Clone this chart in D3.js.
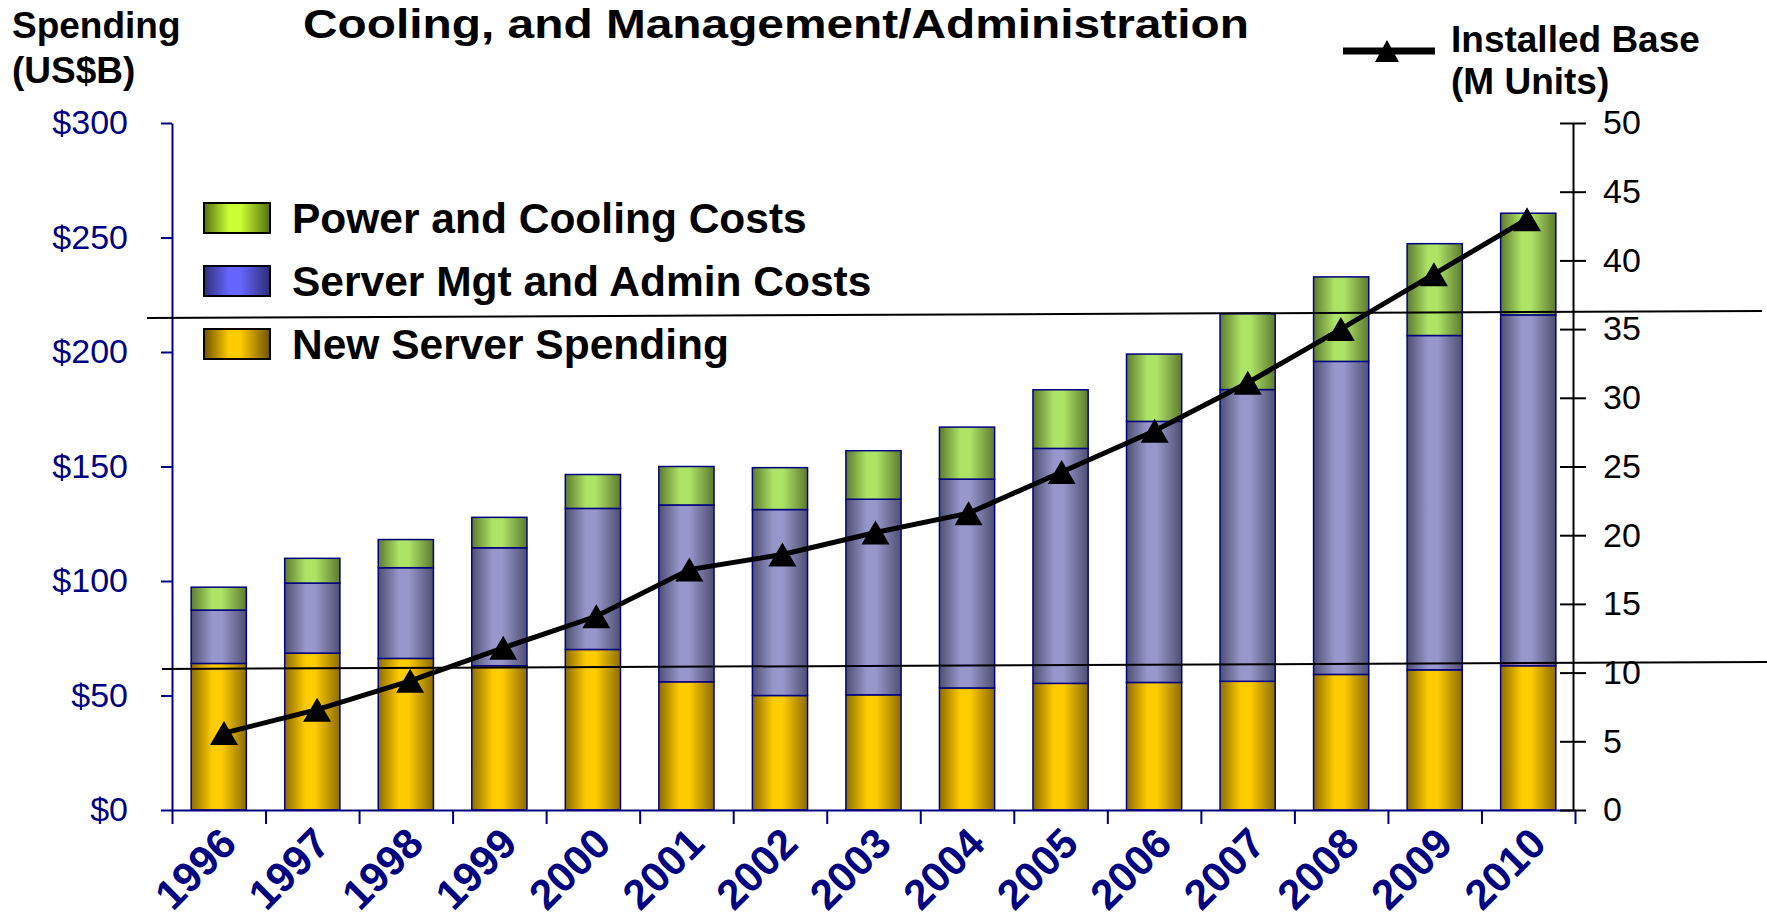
<!DOCTYPE html>
<html>
<head>
<meta charset="utf-8">
<script src="https://cdn.jsdelivr.net/npm/d3@7"></script>
<style>
  body { margin: 0; background: #fff; }
  text { font-family: "Liberation Sans", Arial, sans-serif; }
</style>
</head>
<body>
<div id="chart"></div>
<script>
// chart data
var years = ["1996", "1997", "1998", "1999", "2000", "2001", "2002", "2003",
             "2004", "2005", "2006", "2007", "2008", "2009", "2010"];
var newServer    = [64, 68.5, 66.2, 63, 70.1, 56, 50, 50.3, 53.3, 55.3, 55.7, 56.2, 59.2, 61.2, 63];
var mgmtAdmin    = [23.3, 30.6, 39.6, 51.5, 61.6, 77.2, 81.2, 85.4, 91.2, 102.6, 114, 127.4, 136.7, 146, 153.2];
var powerCooling = [10, 10.8, 12.3, 13.3, 14.8, 16.8, 18.3, 21.2, 22.7, 25.6, 29.4, 33.1, 36.9, 40.1, 44.4];
var installedBase = [5.6, 7.3, 9.4, 11.8, 14.1, 17.5, 18.6, 20.2, 21.6, 24.6, 27.6, 31.1, 35.0, 39.0, 43.0];

var leftTicks  = [0, 50, 100, 150, 200, 250, 300];
var rightTicks = [0, 5, 10, 15, 20, 25, 30, 35, 40, 45, 50];

var seriesKeys   = ["newServer", "mgmtAdmin", "powerCooling"];
var legendLabels = ["Power and Cooling Costs", "Server Mgt and Admin Costs", "New Server Spending"];

// svg size and plot box
var svgWidth = 1767;
var svgHeight = 923;
var plot = { left: 172, right: 1575, top: 123, bottom: 810 };
var navy = "#000080";

var svg = d3.select("#chart")
  .append("svg")
  .attr("width", svgWidth)
  .attr("height", svgHeight);

// gradients: dark edges, light middle
var defs = svg.append("defs");
function addGradient(id, edge, mid) {
  var g = defs.append("linearGradient")
    .attr("id", id)
    .attr("x1", 0).attr("x2", 1).attr("y1", 0).attr("y2", 0);
  g.append("stop").attr("offset", 0).attr("stop-color", edge);
  g.append("stop").attr("offset", 0.38).attr("stop-color", mid);
  g.append("stop").attr("offset", 0.55).attr("stop-color", mid);
  g.append("stop").attr("offset", 1).attr("stop-color", edge);
}
addGradient("g-newServer", "#8c6c00", "#ffcc00");
addGradient("g-mgmtAdmin", "#4f4f72", "#9797cc");
addGradient("g-powerCooling", "#5e7a2e", "#ade466");
addGradient("s-newServer", "#6e5200", "#ffcc00");
addGradient("s-mgmtAdmin", "#2e2e78", "#6666ff");
addGradient("s-powerCooling", "#557010", "#ccff33");

// scales
var x = d3.scaleBand()
  .domain(years)
  .range([plot.left, plot.right])
  .paddingInner(0.41)
  .paddingOuter(0.205);

var xLine = d3.scalePoint()
  .domain(years)
  .range([224, 1527]);

var yLeft = d3.scaleLinear()
  .domain([0, 300])
  .range([plot.bottom, plot.top]);

var yRight = d3.scaleLinear()
  .domain([0, 50])
  .range([plot.bottom, plot.top]);

// table for the stack
var table = years.map(function(yr, i) {
  return { year: yr, newServer: newServer[i], mgmtAdmin: mgmtAdmin[i], powerCooling: powerCooling[i] };
});
var stacked = d3.stack().keys(seriesKeys)(table);

// stacked bars
var barGroup = svg.append("g");
barGroup.selectAll("g")
  .data(stacked)
  .enter()
  .append("g")
  .attr("fill", d => "url(#g-" + d.key + ")")
  .selectAll("rect")
  .data(d => d)
  .enter()
  .append("rect")
  .attr("x", d => x(d.data.year))
  .attr("width", x.bandwidth())
  .attr("y", d => yLeft(d[1]))
  .attr("height", d => yLeft(d[0]) - yLeft(d[1]))
  .attr("stroke", navy)
  .attr("stroke-width", 1.5);

// x axis: ticks between categories
var xIdx = d3.scaleLinear().domain([0, years.length]).range([plot.left, plot.right]);
var xAxisG = svg.append("g")
  .attr("transform", `translate(0, ${plot.bottom})`)
  .call(d3.axisBottom(xIdx).tickValues(d3.range(years.length + 1)).tickSize(14).tickSizeOuter(0).tickFormat(""));
xAxisG.selectAll("path, line").attr("stroke", navy).attr("stroke-width", 2);

svg.append("g").selectAll("text")
  .data(years)
  .enter()
  .append("text")
  .attr("transform", d => `translate(${x(d) + x.bandwidth() / 2 + 20}, ${plot.bottom + 36}) rotate(-45)`)
  .attr("text-anchor", "end")
  .attr("font-size", 42)
  .attr("font-weight", "bold")
  .attr("fill", navy)
  .text(d => d);

// left axis
var leftAxisG = svg.append("g")
  .attr("transform", `translate(${plot.left}, 0)`)
  .call(d3.axisLeft(yLeft).tickValues(leftTicks).tickSize(11).tickSizeOuter(0).tickPadding(33).tickFormat(d => "$" + d));
leftAxisG.selectAll("path, line").attr("stroke", navy).attr("stroke-width", 2);
leftAxisG.selectAll("text")
  .attr("font-size", 34)
  .attr("font-family", "Liberation Sans, Arial, sans-serif")
  .attr("fill", navy);

// right axis
var rightAxisG = svg.append("g")
  .attr("transform", "translate(1573, 0)")
  .call(d3.axisRight(yRight).tickValues(rightTicks).tickSize(13).tickSizeOuter(0).tickPadding(17));
rightAxisG.selectAll("path, line").attr("stroke", "#000").attr("stroke-width", 2);
rightAxisG.selectAll(".tick line").attr("x1", -13);
rightAxisG.selectAll("text")
  .attr("font-size", 34)
  .attr("font-family", "Liberation Sans, Arial, sans-serif")
  .attr("fill", "#000");

// installed base line
var triangle = "M0,-12 L14,12 L-14,12 Z";
var line = d3.line()
  .x((d, i) => xLine(years[i]))
  .y(d => yRight(d));

svg.append("path")
  .datum(installedBase)
  .attr("d", line)
  .attr("fill", "none")
  .attr("stroke", "#000")
  .attr("stroke-width", 5);

svg.append("g").selectAll("path")
  .data(installedBase)
  .enter()
  .append("path")
  .attr("d", triangle)
  .attr("transform", (d, i) => `translate(${xLine(years[i])}, ${yRight(d)})`)
  .attr("fill", "#000");

// stray slide rules crossing the chart
svg.append("line")
  .attr("x1", 147).attr("y1", 318).attr("x2", 1762).attr("y2", 311)
  .attr("stroke", "#000").attr("stroke-width", 2);
svg.append("line")
  .attr("x1", 162).attr("y1", 669).attr("x2", 1767).attr("y2", 662)
  .attr("stroke", "#000").attr("stroke-width", 2);

// bar legend
var legendKeys = ["powerCooling", "mgmtAdmin", "newServer"];
var legend = svg.append("g");
legendKeys.forEach(function(key, i) {
  var ly = 203 + i * 63;
  legend.append("rect")
    .attr("x", 204).attr("y", ly)
    .attr("width", 66).attr("height", 30)
    .attr("fill", "url(#s-" + key + ")")
    .attr("stroke", "#000").attr("stroke-width", 2);
  legend.append("text")
    .attr("x", 292).attr("y", ly + 30)
    .attr("font-size", 42.5)
    .attr("font-weight", "bold")
    .text(legendLabels[i]);
});

// line legend
svg.append("line")
  .attr("x1", 1343).attr("x2", 1435).attr("y1", 51).attr("y2", 51)
  .attr("stroke", "#000").attr("stroke-width", 7);
svg.append("path")
  .attr("d", "M0,-11 L12,11 L-12,11 Z")
  .attr("transform", "translate(1387, 51)");
svg.append("text").attr("x", 1451).attr("y", 52)
  .attr("font-size", 37).attr("font-weight", "bold").text("Installed Base");
svg.append("text").attr("x", 1451).attr("y", 94)
  .attr("font-size", 37).attr("font-weight", "bold").text("(M Units)");

// left axis title
svg.append("text").attr("x", 12).attr("y", 38)
  .attr("font-size", 37).attr("font-weight", "bold").text("Spending");
svg.append("text").attr("x", 12).attr("y", 83)
  .attr("font-size", 37).attr("font-weight", "bold").text("(US$B)");

// chart title (second line visible)
svg.append("text")
  .attr("x", 303).attr("y", 37.5)
  .attr("font-size", 41)
  .attr("font-weight", "bold")
  .attr("textLength", 946)
  .attr("lengthAdjust", "spacingAndGlyphs")
  .text("Cooling, and Management/Administration");
</script>
</body>
</html>
